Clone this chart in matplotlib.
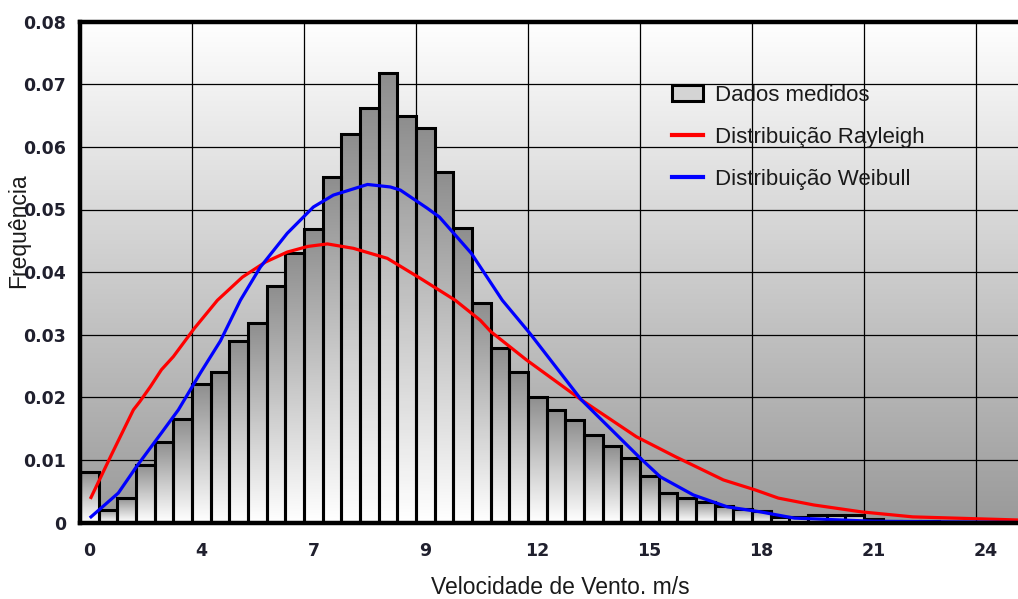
import matplotlib
matplotlib.use('Agg')
import matplotlib.pyplot as plt
import numpy as np
from matplotlib.patches import Patch
from matplotlib.lines import Line2D
from matplotlib.colors import LinearSegmentedColormap

# histograma: frequencia de cada classe de velocidade
freq = [0.0081, 0.0020, 0.0039, 0.0092, 0.0129, 0.0165, 0.0221, 0.0241, 0.0290, 0.0319,
        0.0378, 0.0430, 0.0469, 0.0552, 0.0621, 0.0662, 0.0718, 0.0650, 0.0630, 0.0560,
        0.0470, 0.0350, 0.0279, 0.0241, 0.0200, 0.0180, 0.0163, 0.0140, 0.0122, 0.0103,
        0.0075, 0.0047, 0.0039, 0.0033, 0.0026, 0.0021, 0.0018, 0.0008, 0.0008, 0.0012,
        0.0012, 0.0012, 0.0005, 0.0003, 0.0002, 0.0002, 0.0001, 0.0001, 0.0001, 0.0001]

# curvas ajustadas (posicao em classes, frequencia)
ray_x = [0.09, 1.18, 2.36, 2.7, 3.27, 3.86, 4.5, 5.62, 6.86, 8.2, 9.43, 10.6, 11.7, 12.75,
         14.14, 15.96, 17.73, 19.6, 20.94, 21.5, 23.4, 26.35, 29.3, 31.4, 33.96, 35.67,
         36.9, 38.8, 41.35, 44.1, 49.76]
ray_y = [0.0040, 0.0108, 0.0180, 0.0193, 0.0217, 0.0244, 0.0265, 0.0310, 0.0355, 0.0392,
         0.0416, 0.0432, 0.0441, 0.0445, 0.0438, 0.0422, 0.0390, 0.0355, 0.0323, 0.0305,
         0.0260, 0.0196, 0.0137, 0.0105, 0.0068, 0.0052, 0.0039, 0.0028, 0.0017, 0.0009,
         0.0004]
wei_x = [0.09, 1.55, 2.52, 3.86, 4.77, 5.95, 7.02, 8.09, 9.16, 10.6, 12.0, 13.07, 14.9,
         16.12, 16.66, 18.1, 18.75, 20.46, 22.12, 23.6, 26.35, 29.5, 30.58, 32.35, 34.17,
         35.94, 37.76, 42.0, 49.76]
wei_y = [0.0009, 0.0047, 0.0089, 0.0143, 0.0180, 0.0239, 0.0290, 0.0355, 0.0408, 0.0462,
         0.0504, 0.0523, 0.0540, 0.0536, 0.0531, 0.0502, 0.0488, 0.0430, 0.0355, 0.0302,
         0.0196, 0.0103, 0.0073, 0.0044, 0.0025, 0.0017, 0.0007, 0.0002, 0.0000]

xtick_pos = [0, 6, 12, 18, 24, 30, 36, 42, 48]
xtick_lab = ['0', '4', '7', '9', '12', '15', '18', '21', '24']
ytick_pos = [0, 0.01, 0.02, 0.03, 0.04, 0.05, 0.06, 0.07, 0.08]
ytick_lab = ['0', '0.01', '0.02', '0.03', '0.04', '0.05', '0.06', '0.07', '0.08']

fig = plt.figure(figsize=(10.18, 5.99), dpi=100)
ax = fig.add_axes([80/1018, 76.5/599, 938/1018, 500.8/599])

xmin, xmax = -0.5, 49.74
ymin, ymax = 0, 0.08

# fundo em degrade
bg = LinearSegmentedColormap.from_list('bg', ['#9a9a9a', '#ffffff'])
ax.imshow(np.linspace(0, 1, 256).reshape(-1, 1), cmap=bg, origin='lower', aspect='auto',
          extent=[0, 1, 0, 1], transform=ax.transAxes, zorder=0)

# grade
for gx in np.arange(5.5, xmax, 6):
    ax.axvline(gx, color='black', lw=0.9, zorder=0.5)
for gy in ytick_pos[1:-1]:
    ax.axhline(gy, color='black', lw=0.9, zorder=0.5)

# barras com degrade proprio
bar_cm = LinearSegmentedColormap.from_list('bar', ['#ffffff', '#c8c8c8', '#8e8e8e'])
bars = ax.bar(np.arange(len(freq)), freq, width=1.0, facecolor='none',
              edgecolor='black', linewidth=2.2, zorder=3)
grad = np.linspace(0, 1, 128).reshape(-1, 1)
for b in bars:
    im = ax.imshow(grad, cmap=bar_cm, origin='lower', aspect='auto',
                   extent=[b.get_x(), b.get_x() + b.get_width(), 0, b.get_height()],
                   zorder=2)
    im.set_clip_path(b)

ax.plot(ray_x, ray_y, color='#ff0000', lw=2.3, zorder=4)
ax.plot(wei_x, wei_y, color='#0000ff', lw=2.3, zorder=4)

ax.set_xlim(xmin, xmax)
ax.set_ylim(ymin, ymax)

ax.set_xticks(xtick_pos)
ax.set_xticklabels(xtick_lab)
ax.set_yticks(ytick_pos)
ax.set_yticklabels(ytick_lab)
ax.tick_params(length=0, labelsize=12.5, labelcolor='#20202e')
ax.tick_params(axis='x', pad=14)
ax.tick_params(axis='y', pad=10)
for t in ax.get_xticklabels() + ax.get_yticklabels():
    t.set_fontweight('bold')
    t.set_family('DejaVu Sans')

for s in ['left', 'bottom', 'top']:
    ax.spines[s].set_linewidth(3.2)
    ax.spines[s].set_color('black')
    ax.spines[s].set_zorder(5)
ax.spines['right'].set_visible(False)

fig.text(560/1018, 1 - 587/599, 'Velocidade de Vento. m/s', fontsize=16.5,
         family='Liberation Sans', ha='center', va='center', color='#1a1a1a')
fig.text(19/1018, 1 - 231/599, 'Frequência', fontsize=16.5, rotation=90,
         family='Liberation Sans', ha='center', va='center', color='#1a1a1a')

handles = [Patch(facecolor='#d4d4d4', edgecolor='black', linewidth=2.2),
           Line2D([], [], color='#ff0000', lw=3),
           Line2D([], [], color='#0000ff', lw=3)]
labels = ['Dados medidos', 'Distribuição Rayleigh', 'Distribuição Weibull']
leg = ax.legend(handles, labels, loc='upper left', bbox_to_anchor=(672/1018, 1 - 85/599),
                bbox_transform=fig.transFigure, frameon=False,
                prop={'family': 'Liberation Sans', 'size': 16},
                handlelength=1.4, handleheight=0.7, handletextpad=0.55,
                labelspacing=0.95, borderpad=0, borderaxespad=0)
leg.set_zorder(6)
for t in leg.get_texts():
    t.set_color('#1a1a1a')

fig.savefig('out.png', dpi=100)
